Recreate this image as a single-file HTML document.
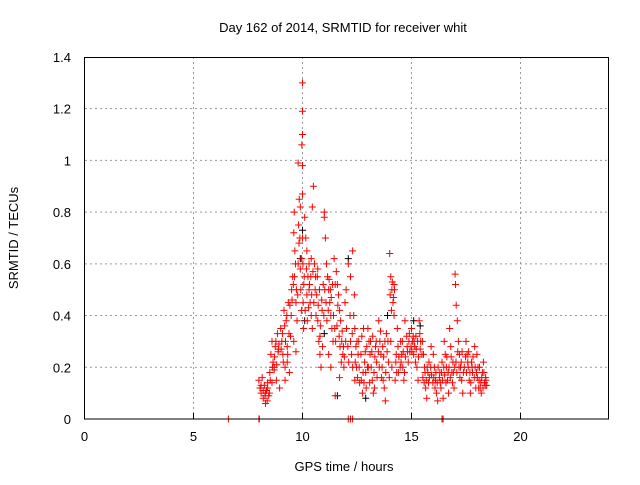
<!DOCTYPE html>
<html><head><meta charset="utf-8"><style>
body{margin:0;background:#fff}
svg text{font-family:"Liberation Sans",sans-serif;font-size:13px;fill:#000}
</style></head><body>
<svg id="chart" width="640" height="480">
<g id="grid"></g>
<g id="axes"></g>
<g id="black"></g>
<g id="red"></g>
<rect x="84.5" y="57.5" width="524" height="361.5" fill="none" stroke="#000"/>
<text x="343" y="32" text-anchor="middle">Day 162 of 2014, SRMTID for receiver whit</text>
<text x="344" y="471" text-anchor="middle">GPS time / hours</text>
<text x="18" y="238" text-anchor="middle" transform="rotate(-90 18 238)">SRMTID / TECUs</text>
</svg>
<script>
const xTicks=[0,5,10,15,20];
const yTicks=[0,0.2,0.4,0.6,0.8,1,1.2,1.4];
const yTickLabels=["0","0.2","0.4","0.6","0.8","1","1.2","1.4"];
const redPoints=[[6.6,0],[8,0],[8.02,0],[12.1,0],[12.2,0],[12.3,0],[16.4,0],[16.45,0],
[8.0,0.15],[8.05,0.12],[8.1,0.1],[8.15,0.16],[8.2,0.08],[8.25,0.13],[8.3,0.06],[8.35,0.11],[8.4,0.14],[8.45,0.09],[8.3,0.1],[8.4,0.12],
[8.5,0.18],[8.55,0.25],[8.6,0.3],[8.65,0.22],[8.7,0.2],[8.75,0.28],[8.8,0.15],[8.85,0.33],[8.9,0.27],[8.95,0.12],[8.7,0.19],[8.6,0.14],
[9.0,0.35],[9.05,0.3],[9.1,0.25],[9.15,0.42],[9.2,0.2],[9.25,0.38],[9.3,0.28],[9.35,0.45],[9.4,0.18],[9.45,0.32],[9.2,0.15],[9.3,0.22],
[9.5,0.5],[9.55,0.55],[9.6,0.72],[9.62,0.8],[9.65,0.65],[9.7,0.45],[9.75,0.38],[9.8,0.6],[9.82,0.75],[9.85,0.85],[9.8,0.99],[9.9,0.82],[9.9,0.58],[9.95,0.42],[9.6,0.3],[9.7,0.26],
[10.0,1.3],[10.0,1.19],[10.0,1.1],[9.97,1.06],[10.0,0.98],[10.0,0.87],[10.02,0.6],[10.03,0.45],[10.05,0.35],[10.06,0.52],[10.0,0.7],
[10.1,0.78],[10.15,0.7],[10.2,0.65],[10.25,0.55],[10.3,0.5],[10.35,0.45],[10.3,0.6],[10.4,0.4],[10.45,0.35],[10.5,0.9],[10.45,0.82],[10.2,0.48],[10.4,0.62],
[10.55,0.6],[10.6,0.55],[10.65,0.48],[10.7,0.38],[10.75,0.3],[10.8,0.25],[10.85,0.2],[10.9,0.42],[10.95,0.52],[10.8,0.32],[10.7,0.58],
[11.0,0.8],[11.0,0.78],[11.05,0.7],[11.1,0.6],[11.15,0.55],[11.2,0.5],[11.25,0.45],[11.3,0.4],[11.35,0.35],[11.4,0.3],[11.2,0.25],[11.3,0.2],[11.45,0.62],[11.5,0.52],
[11.55,0.57],[11.6,0.52],[11.65,0.48],[11.7,0.42],[11.75,0.38],[11.8,0.3],[11.85,0.25],[11.9,0.2],[11.7,0.16],[11.5,0.09],[11.95,0.45],
[12.0,0.5],[12.1,0.6],[12.2,0.55],[12.3,0.65],[12.35,0.4],[12.4,0.35],[12.2,0.3],[12.25,0.25],[12.3,0.2],[12.4,0.15],[12.45,0.28],
[12.5,0.3],[12.55,0.25],[12.6,0.2],[12.7,0.15],[12.75,0.1],[12.8,0.35],[12.85,0.22],[12.9,0.18],[12.95,0.28],
[13.0,0.35],[13.05,0.3],[13.1,0.25],[13.15,0.2],[13.2,0.15],[13.25,0.1],[13.3,0.12],[13.35,0.28],[13.4,0.22],
[13.5,0.38],[13.55,0.3],[13.6,0.25],[13.65,0.2],[13.7,0.15],[13.75,0.12],[13.8,0.07],[13.85,0.33],[13.95,0.22],
[14.0,0.64],[14.05,0.55],[14.1,0.5],[14.15,0.45],[14.2,0.4],[14.05,0.3],[14.1,0.2],[14.25,0.15],[14.3,0.25],[14.35,0.35],[14.4,0.18],[14.2,0.52],
[14.5,0.3],[14.55,0.25],[14.6,0.2],[14.65,0.15],[14.7,0.38],[14.8,0.28],[14.85,0.22],[14.9,0.33],
[15.0,0.35],[15.05,0.3],[15.1,0.25],[15.15,0.28],[15.2,0.32],[15.25,0.2],[15.3,0.15],[15.35,0.38],[15.4,0.27],
[15.5,0.3],[15.55,0.25],[15.6,0.2],[15.65,0.12],[15.7,0.08],[15.75,0.18],[15.8,0.22],[15.9,0.28],
[16.0,0.25],[16.05,0.2],[16.1,0.15],[16.15,0.1],[16.2,0.07],[16.3,0.18],[16.35,0.12],[16.4,0.22],[16.45,0.08],
[16.5,0.3],[16.55,0.25],[16.6,0.2],[16.65,0.15],[16.7,0.1],[16.75,0.35],[16.8,0.28],[16.85,0.18],[16.9,0.22],[16.95,0.12],
[17.0,0.56],[17.02,0.52],[17.05,0.44],[17.1,0.38],[17.15,0.3],[17.2,0.25],[17.25,0.2],[17.3,0.15],[17.35,0.1],
[17.5,0.3],[17.55,0.25],[17.6,0.2],[17.65,0.15],[17.7,0.1],[17.75,0.22],[17.8,0.18],[17.9,0.28],[17.95,0.12],
[18.0,0.25],[18.05,0.2],[18.1,0.15],[18.15,0.12],[18.2,0.1],[18.25,0.18],[18.3,0.22],[18.35,0.14],[18.4,0.16]];
const redPointsExtra=[[8.1,0.13],[8.2,0.11],[8.28,0.09],[8.38,0.07],[8.48,0.1],[8.52,0.15],[8.62,0.2],[8.72,0.24],[8.78,0.3],[8.82,0.21],[8.88,0.26],[8.92,0.29],
[9.02,0.27],[9.08,0.33],[9.12,0.22],[9.18,0.36],[9.22,0.3],[9.28,0.4],[9.32,0.25],[9.38,0.33],[9.42,0.44],[9.48,0.4],
[9.52,0.46],[9.58,0.52],[9.63,0.55],[9.68,0.6],[9.72,0.5],[9.78,0.48],[9.84,0.68],[9.88,0.7],[9.92,0.5],[9.96,0.62],
[10.08,0.55],[10.12,0.42],[10.18,0.58],[10.22,0.38],[10.28,0.43],[10.32,0.52],[10.38,0.55],[10.42,0.48],[10.48,0.57],
[10.52,0.45],[10.58,0.5],[10.62,0.4],[10.68,0.55],[10.72,0.44],[10.78,0.5],[10.82,0.36],[10.88,0.46],[10.92,0.28],[10.98,0.4],
[11.02,0.5],[11.08,0.45],[11.12,0.38],[11.18,0.42],[11.22,0.54],[11.28,0.5],[11.32,0.47],[11.38,0.52],[11.42,0.4],[11.48,0.35],
[11.52,0.3],[11.58,0.36],[11.62,0.44],[11.68,0.32],[11.72,0.28],[11.78,0.22],[11.82,0.34],[11.88,0.28],[11.92,0.24],[11.98,0.3],
[12.02,0.35],[12.08,0.28],[12.12,0.22],[12.18,0.4],[12.28,0.33],[12.38,0.48],[12.42,0.22],[12.48,0.2],
[12.52,0.16],[12.58,0.3],[12.62,0.14],[12.68,0.25],[12.72,0.32],[12.78,0.18],[12.82,0.14],[12.88,0.26],[12.92,0.12],[12.98,0.2],
[13.02,0.2],[13.08,0.14],[13.12,0.3],[13.18,0.26],[13.22,0.32],[13.28,0.18],[13.32,0.24],[13.38,0.3],[13.42,0.16],[13.48,0.26],
[13.52,0.2],[13.58,0.34],[13.62,0.16],[13.68,0.28],[13.72,0.24],[13.78,0.3],[13.82,0.18],[13.88,0.26],[13.92,0.3],[13.98,0.16],
[14.02,0.48],[14.08,0.42],[14.12,0.53],[14.18,0.47],[14.22,0.5],[14.28,0.22],[14.32,0.18],[14.38,0.28],[14.42,0.24],[14.48,0.2],
[14.52,0.22],[14.58,0.3],[14.62,0.26],[14.68,0.18],[14.72,0.24],[14.78,0.32],[14.82,0.26],[14.88,0.3],[14.92,0.26],[14.98,0.28],
[15.02,0.26],[15.08,0.32],[15.12,0.3],[15.18,0.22],[15.22,0.27],[15.28,0.3],[15.32,0.24],[15.38,0.33],[15.42,0.3],[15.48,0.25],
[15.52,0.16],[15.58,0.14],[15.62,0.18],[15.68,0.15],[15.72,0.2],[15.78,0.14],[15.82,0.16],[15.88,0.2],[15.92,0.17],[15.98,0.14],
[16.02,0.16],[16.08,0.12],[16.12,0.18],[16.18,0.14],[16.22,0.2],[16.28,0.16],[16.32,0.14],[16.38,0.18],[16.42,0.15],[16.48,0.2],
[16.52,0.17],[16.58,0.14],[16.62,0.24],[16.68,0.18],[16.72,0.2],[16.78,0.16],[16.82,0.24],[16.88,0.14],[16.92,0.18],[16.98,0.2],
[17.04,0.22],[17.08,0.18],[17.12,0.26],[17.18,0.2],[17.22,0.16],[17.28,0.22],[17.32,0.26],[17.38,0.18],[17.42,0.2],[17.48,0.24],
[17.52,0.18],[17.58,0.22],[17.62,0.26],[17.68,0.18],[17.72,0.14],[17.78,0.2],[17.82,0.24],[17.88,0.16],[17.92,0.2],[17.98,0.18],
[18.02,0.16],[18.08,0.12],[18.12,0.2],[18.18,0.14],[18.22,0.16],[18.28,0.12],[18.32,0.18],[18.38,0.13],[18.42,0.15],[18.45,0.13]];
const blackPoints=[[9.9,0.62],[10.0,0.73],[10.1,0.38],[11.0,0.33],[11.6,0.09],[12.1,0.62],[12.9,0.08],[13.9,0.4],[15.1,0.38],[15.4,0.36]];
const X=h=>84.5+h*21.8, Y=v=>419-v*258.6;
const NS="http://www.w3.org/2000/svg";
function mk(tag,attrs,parent){const e=document.createElementNS(NS,tag);for(const k in attrs)e.setAttribute(k,attrs[k]);parent.appendChild(e);return e;}
const grid=document.getElementById('grid'),axes=document.getElementById('axes');
xTicks.forEach(t=>{
  if(t>0){const g=mk('line',{x1:X(t),x2:X(t),y1:57,y2:419,stroke:'#999','stroke-dasharray':'2,3'},grid);
  
  }
  const tk=mk('line',{x1:X(t),x2:X(t),y1:419,y2:413,stroke:'#000'},axes);
  
  
  const l=mk('text',{x:X(t),y:441,'text-anchor':'middle'},axes);l.textContent=t;
  
  
});
yTicks.forEach((t,i)=>{
  if(t>0&&t<1.4){const g=mk('line',{x1:85,x2:608,y1:Y(t),y2:Y(t),stroke:'#999','stroke-dasharray':'2,3'},grid);
  
  }
  const l=mk('text',{x:71,y:Y(t)+5,'text-anchor':'end'},axes);l.textContent=yTickLabels[i];
  
  
});
function plus(p,color,parent,name){
  const x=X(p[0]),y=Y(p[1]);
  const e=mk('path',{d:`M${x-3.5} ${y}H${x+3.5}M${x} ${y-3.5}V${y+3.5}`,stroke:color,'stroke-width':1,fill:'none'},parent);
  
  
}
blackPoints.forEach(p=>plus(p,'#000',document.getElementById('black'),'black-point'));
redPoints.forEach(p=>plus(p,'#f00',document.getElementById('red'),'red-point'));
redPointsExtra.forEach(p=>plus(p,'#f00',document.getElementById('red'),'red-point'));
</script>
</body></html>
